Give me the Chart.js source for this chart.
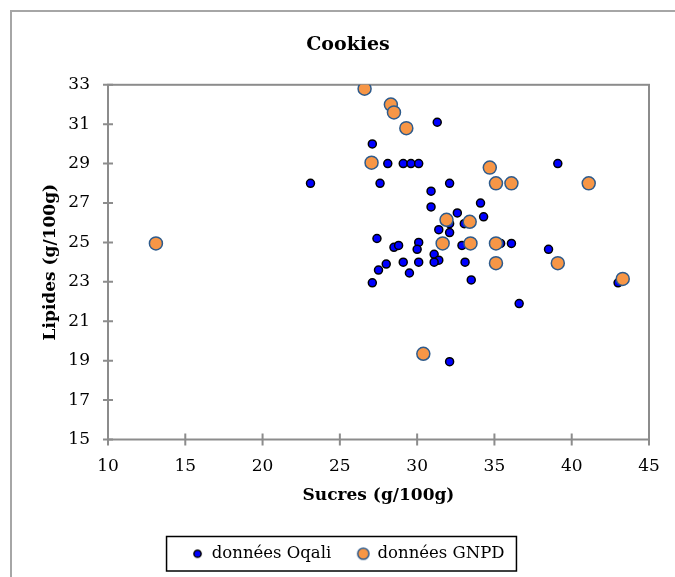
<!DOCTYPE html>
<html>
<head>
<meta charset="utf-8">
<script src="https://cdn.jsdelivr.net/npm/chart.js@4/dist/chart.umd.min.js"></script>
<style>
html, body { margin: 0; padding: 0; background: #fff; overflow: hidden; }
#frame { position: absolute; left: 10px; top: 10px; width: 700px; height: 600px; border: 2px solid #a6a6a6; }
#cookies { position: absolute; left: 0; top: 0; }
</style>
</head>
<body>
<div id="frame"><canvas id="cookies" width="672" height="562"></canvas></div>
<script>
// axes
var xTicks = [10, 15, 20, 25, 30, 35, 40, 45];
var yTicks = [15, 17, 19, 21, 23, 25, 27, 29, 31, 33];

// données Oqali (sucres, lipides)
var oqaliSucres = [23.1, 27.1, 27.6, 28.1, 29.1, 29.6, 30.1, 31.3, 39.1, 32.1,
  30.9, 30.9, 34.1, 32.6, 34.3, 32.1, 33.05, 31.4, 32.1, 27.4,
  28.5, 28.8, 30.1, 30.0, 32.9, 35.4, 36.1, 38.5, 31.1, 31.4,
  28.0, 29.1, 30.1, 31.1, 33.1, 27.5, 29.5, 27.1, 33.5, 43.0,
  36.6, 32.1];
var oqaliLipides = [28.0, 30.0, 28.0, 29.0, 29.0, 29.0, 29.0, 31.1, 29.0, 28.0,
  27.6, 26.8, 27.0, 26.5, 26.3, 25.95, 25.95, 25.65, 25.5, 25.2,
  24.75, 24.85, 25.0, 24.65, 24.85, 24.95, 24.95, 24.65, 24.4, 24.1,
  23.9, 24.0, 24.0, 24.0, 24.0, 23.6, 23.45, 22.95, 23.1, 22.95,
  21.9, 18.95];

// données GNPD
var gnpdSucres = [13.1, 26.6, 28.3, 28.5, 29.3, 27.05, 34.7, 35.1, 36.1, 41.1,
  31.9, 33.4, 31.65, 33.45, 35.1, 35.1, 39.1, 43.3, 30.4];
var gnpdLipides = [24.95, 32.8, 32.0, 31.6, 30.8, 29.05, 28.8, 28.0, 28.0, 28.0,
  26.15, 26.05, 24.95, 24.95, 24.95, 23.95, 23.95, 23.15, 19.35];

function pairs(xs, ys) {
  return xs.map(function (v, i) { return { x: v, y: ys[i] }; });
}

function markCanvas(r, fill, stroke, lw) {
  var s = Math.ceil(2 * (r + lw));
  var c = document.createElement('canvas');
  c.width = s; c.height = s;
  var g = c.getContext('2d');
  g.beginPath();
  g.arc(s / 2, s / 2, r, 0, Math.PI * 2);
  g.fillStyle = fill; g.fill();
  g.lineWidth = lw; g.strokeStyle = stroke; g.stroke();
  return c;
}
var legendMarks = [
  markCanvas(3.6, '#0000ff', '#000000', 1.5),
  markCanvas(5.6, '#f79646', '#2e5b8c', 1.5)
];

// cadre du graphique + graduations croisées
var axesBox = {
  id: 'axesBox',
  beforeDatasetsDraw: function (chart) {
    var ctx = chart.ctx, a = chart.chartArea, x = chart.scales.x, y = chart.scales.y;
    ctx.save();
    ctx.strokeStyle = '#8c8c8c';
    ctx.lineWidth = 2;
    ctx.strokeRect(a.left, a.top, a.right - a.left, a.bottom - a.top);
    ctx.beginPath();
    xTicks.forEach(function (v) {
      var px = x.getPixelForValue(v);
      ctx.moveTo(px, a.bottom - 6); ctx.lineTo(px, a.bottom + 6);
    });
    yTicks.forEach(function (v) {
      var py = y.getPixelForValue(v);
      ctx.moveTo(a.left - 5, py); ctx.lineTo(a.left + 5, py);
    });
    ctx.stroke();
    ctx.restore();
  }
};

// bordure noire de la légende
var legendFrame = {
  id: 'legendFrame',
  afterDraw: function (chart) {
    var boxes = chart.legend.legendHitBoxes;
    if (!boxes || !boxes.length) return;
    var l = Math.min.apply(null, boxes.map(function (b) { return b.left; })) - 25;
    var r = Math.max.apply(null, boxes.map(function (b) { return b.left + b.width; })) + 12;
    var t = boxes[0].top - 9, h = boxes[0].height + 18;
    var ctx = chart.ctx;
    ctx.save();
    ctx.strokeStyle = '#000';
    ctx.lineWidth = 1.5;
    ctx.strokeRect(l, t, r - l, h);
    ctx.restore();
  }
};

Chart.defaults.font.family = "'DejaVu Serif', serif";
Chart.defaults.color = '#000';

var ctx = document.getElementById('cookies').getContext('2d');
var myChart = new Chart(ctx, {
  type: 'scatter',
  data: {
    datasets: [
      {
        label: 'données Oqali',
        data: pairs(oqaliSucres, oqaliLipides),
        backgroundColor: '#0000ff',
        borderColor: '#000000',
        borderWidth: 1.5,
        pointRadius: 4,
        order: 1
      },
      {
        label: 'données GNPD',
        data: pairs(gnpdSucres, gnpdLipides),
        backgroundColor: '#f79646',
        borderColor: '#2e5b8c',
        borderWidth: 1.5,
        pointRadius: 6.5,
        order: 0
      }
    ]
  },
  options: {
    responsive: false,
    animation: false,
    events: [],
    layout: { padding: { left: 35, right: 35, top: 0, bottom: 2 } },
    plugins: {
      tooltip: { enabled: false },
      title: {
        display: true,
        text: 'Cookies',
        font: { size: 19, weight: 'bold' },
        padding: { top: 22, bottom: 28 }
      },
      legend: {
        position: 'bottom',
        labels: {
          usePointStyle: true,
          boxWidth: 12,
          padding: 26,
          font: { size: 16.5 },
          generateLabels: function (chart) {
            return chart.data.datasets.map(function (ds, i) {
              return { text: ds.label, pointStyle: legendMarks[i], datasetIndex: i,
                       hidden: false, lineWidth: 0, fillStyle: 'transparent', strokeStyle: 'transparent' };
            });
          }
        }
      }
    },
    scales: {
      x: {
        type: 'linear',
        min: xTicks[0],
        max: xTicks[xTicks.length - 1],
        ticks: { stepSize: 5, padding: 17, font: { size: 17 } },
        grid: { display: false, drawTicks: false },
        border: { display: false },
        title: { display: true, text: 'Sucres (g/100g)', font: { size: 17, weight: 'bold' }, padding: { top: 0, bottom: 14 } },
        afterFit: function (scale) { scale.height = 80; }
      },
      y: {
        type: 'linear',
        min: yTicks[0],
        max: yTicks[yTicks.length - 1],
        ticks: { stepSize: 2, padding: 18, font: { size: 17 } },
        grid: { display: false, drawTicks: false },
        border: { display: false },
        title: { display: true, text: 'Lipides (g/100g)', font: { size: 17, weight: 'bold' }, padding: { top: -7, bottom: 0 } },
        afterFit: function (scale) { scale.width = 61; }
      }
    }
  },
  plugins: [axesBox, legendFrame]
});
</script>
</body>
</html>
